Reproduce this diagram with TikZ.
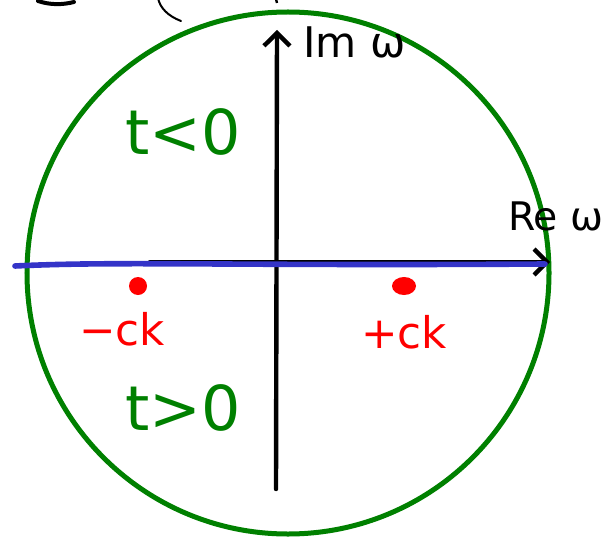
\documentclass[tikz,border=0pt]{standalone}
\usepackage{fontspec}
\setmainfont{DejaVu Sans}
\usepackage{xcolor}
\definecolor{plgreen}{HTML}{008000}
\definecolor{plblue}{HTML}{3434C8}
\definecolor{plred}{HTML}{FF0000}
\usepackage{tikz}
\usetikzlibrary{arrows.meta,positioning,shapes.geometric}

\begin{document}
\begin{tikzpicture}[x=0.025cm,y=-0.025cm,>={Straight Barb[length=3.2mm,width=6.5mm,line width=1.1mm]}]
\tikzset{
 ax/.style={->,line width=1.1mm,line cap=round},
 lbl/.style={inner sep=0pt,font=\fontsize{30}{34}\selectfont},
 tl/.style={inner sep=0pt,text=plgreen,font=\fontsize{44}{50}\selectfont},
 pl/.style={inner sep=0pt,text=plred,font=\fontsize{31}{36}\selectfont},
 pole/.style={fill=plred,draw=none}
}
\useasboundingbox (0,0) rectangle (610,538);
% cut-off scribbles at the top
\draw[line width=1mm,line cap=round] (38,1) .. controls (50,5) and (62,5) .. (74,2);
\draw[line width=0.5mm,line cap=round] (158,-2) .. controls (160,8) and (168,16) .. (181,21);
\draw[line width=0.6mm] (276,-1) -- (277,3);
% contour
\draw[plgreen,line width=1.25mm] (288,273) circle (261);
% axes
\coordinate (imlo) at (276,489);
\coordinate (imhi) at (277,30);
\coordinate (relo) at (150,262);
\coordinate (rehi) at (550,262);
\coordinate (blo) at (15,266);
\coordinate (bhi) at (545,264);
\draw[ax] (imlo) -- (imhi);
\draw[ax] (relo) -- (rehi);
\draw[plblue,line width=1.4mm,line cap=round] (blo) .. controls (120,261) and (220,266) .. (bhi);
\node[lbl,anchor=west] (imlab) at (303,42) {Im ω};
\node[lbl,anchor=west,font=\fontsize{28}{32}\selectfont] (relab) at (508,216) {Re ω};
% half planes
\node[tl] (tneg) at (183,132) {t<0};
\node[tl] (tpos) at (183,408) {t>0};
% poles
\node[pole,circle,minimum size=0.45cm,inner sep=0pt] (pneg) at (138,286) {};
\node[pole,ellipse,minimum width=0.6cm,minimum height=0.45cm,inner sep=0pt] (ppos) at (404,286) {};
\node[pl,below left=0.5cm and -0.85cm of pneg] (cneg) {−ck};
\node[pl,below=0.5cm of ppos] (cpos) {+ck};
\end{tikzpicture}
\end{document}
